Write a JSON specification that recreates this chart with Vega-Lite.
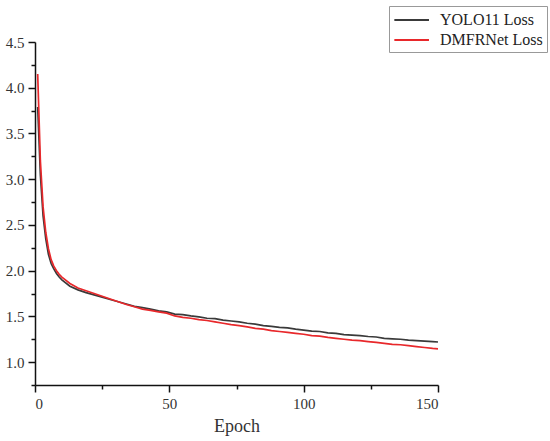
{
  "$schema": "https://vega.github.io/schema/vega-lite/v6.json",
  "autosize": {"type": "none"},
  "width": 403,
  "height": 343,
  "padding": {"left": 35, "top": 42, "right": 112, "bottom": 56},
  "background": "white",
  "data": {
    "values": [
      {"epoch": 1, "yolo": 3.79, "dmfr": 4.15},
      {"epoch": 2, "yolo": 3.05, "dmfr": 3.2},
      {"epoch": 3, "yolo": 2.6, "dmfr": 2.7},
      {"epoch": 4, "yolo": 2.35, "dmfr": 2.42},
      {"epoch": 5, "yolo": 2.18, "dmfr": 2.24},
      {"epoch": 6, "yolo": 2.08, "dmfr": 2.12},
      {"epoch": 7, "yolo": 2.02, "dmfr": 2.05},
      {"epoch": 8, "yolo": 1.97, "dmfr": 2.0},
      {"epoch": 9, "yolo": 1.93, "dmfr": 1.96},
      {"epoch": 10, "yolo": 1.9, "dmfr": 1.93},
      {"epoch": 13, "yolo": 1.83, "dmfr": 1.86},
      {"epoch": 16, "yolo": 1.79, "dmfr": 1.81},
      {"epoch": 19, "yolo": 1.76, "dmfr": 1.78},
      {"epoch": 22, "yolo": 1.735, "dmfr": 1.75},
      {"epoch": 25, "yolo": 1.71, "dmfr": 1.72},
      {"epoch": 28, "yolo": 1.685, "dmfr": 1.69},
      {"epoch": 31, "yolo": 1.66, "dmfr": 1.66},
      {"epoch": 34, "yolo": 1.635, "dmfr": 1.63},
      {"epoch": 37, "yolo": 1.61, "dmfr": 1.605},
      {"epoch": 40, "yolo": 1.595, "dmfr": 1.58},
      {"epoch": 43, "yolo": 1.58, "dmfr": 1.565},
      {"epoch": 46, "yolo": 1.56, "dmfr": 1.55},
      {"epoch": 49, "yolo": 1.55, "dmfr": 1.535},
      {"epoch": 52, "yolo": 1.525, "dmfr": 1.505},
      {"epoch": 55, "yolo": 1.52, "dmfr": 1.49},
      {"epoch": 58, "yolo": 1.505, "dmfr": 1.48},
      {"epoch": 61, "yolo": 1.495, "dmfr": 1.465},
      {"epoch": 64, "yolo": 1.48, "dmfr": 1.455},
      {"epoch": 67, "yolo": 1.475, "dmfr": 1.44},
      {"epoch": 70, "yolo": 1.46, "dmfr": 1.425},
      {"epoch": 73, "yolo": 1.45, "dmfr": 1.41},
      {"epoch": 76, "yolo": 1.44, "dmfr": 1.4},
      {"epoch": 79, "yolo": 1.425, "dmfr": 1.385},
      {"epoch": 82, "yolo": 1.415, "dmfr": 1.37},
      {"epoch": 85, "yolo": 1.4, "dmfr": 1.36},
      {"epoch": 88, "yolo": 1.39, "dmfr": 1.345},
      {"epoch": 91, "yolo": 1.38, "dmfr": 1.335},
      {"epoch": 94, "yolo": 1.375, "dmfr": 1.325},
      {"epoch": 97, "yolo": 1.36, "dmfr": 1.315},
      {"epoch": 100, "yolo": 1.35, "dmfr": 1.305},
      {"epoch": 103, "yolo": 1.34, "dmfr": 1.29},
      {"epoch": 106, "yolo": 1.335, "dmfr": 1.285},
      {"epoch": 109, "yolo": 1.32, "dmfr": 1.27},
      {"epoch": 112, "yolo": 1.315, "dmfr": 1.26},
      {"epoch": 115, "yolo": 1.3, "dmfr": 1.25},
      {"epoch": 118, "yolo": 1.295, "dmfr": 1.24},
      {"epoch": 121, "yolo": 1.29, "dmfr": 1.235},
      {"epoch": 124, "yolo": 1.28, "dmfr": 1.225},
      {"epoch": 127, "yolo": 1.275, "dmfr": 1.215},
      {"epoch": 130, "yolo": 1.26, "dmfr": 1.205},
      {"epoch": 133, "yolo": 1.255, "dmfr": 1.195},
      {"epoch": 136, "yolo": 1.25, "dmfr": 1.19},
      {"epoch": 139, "yolo": 1.24, "dmfr": 1.18},
      {"epoch": 142, "yolo": 1.235, "dmfr": 1.17},
      {"epoch": 145, "yolo": 1.23, "dmfr": 1.16},
      {"epoch": 148, "yolo": 1.225, "dmfr": 1.15},
      {"epoch": 150, "yolo": 1.22, "dmfr": 1.145}
    ]
  },
  "transform": [
    {"fold": ["yolo", "dmfr"], "as": ["model", "loss"]},
    {"calculate": "datum.model == 'yolo' ? 'YOLO11 Loss' : 'DMFRNet Loss'", "as": "series"}
  ],
  "mark": {"type": "line", "strokeWidth": 1.7},
  "encoding": {
    "x": {
      "field": "epoch",
      "type": "quantitative",
      "title": "Epoch",
      "scale": {"domain": [0, 150], "nice": false},
      "axis": {
        "values": [0, 25, 50, 75, 100, 125, 150],
        "labelExpr": "datum.value % 50 == 0 ? datum.label : ''",
        "tickSize": {"condition": {"test": "datum.value % 50 == 0", "value": 7}, "value": 4},
        "titlePadding": 6
      }
    },
    "y": {
      "field": "loss",
      "type": "quantitative",
      "title": null,
      "scale": {"domain": [0.75, 4.5], "nice": false, "zero": false},
      "axis": {
        "values": [0.75, 1, 1.25, 1.5, 1.75, 2, 2.25, 2.5, 2.75, 3, 3.25, 3.5, 3.75, 4, 4.25, 4.5],
        "labelExpr": "(datum.value * 2) % 1 == 0 ? format(datum.value, '.1f') : ''",
        "tickSize": {"condition": {"test": "(datum.value * 2) % 1 == 0", "value": 7}, "value": 4}
      }
    },
    "color": {
      "field": "series",
      "type": "nominal",
      "sort": ["YOLO11 Loss", "DMFRNet Loss"],
      "scale": {"domain": ["YOLO11 Loss", "DMFRNet Loss"], "range": ["#3a3a3a", "#e8282b"]},
      "legend": {
        "title": null,
        "orient": "none",
        "legendX": 354,
        "legendY": -36,
        "symbolType": "M-1,0H3",
        "symbolSize": 300,
        "symbolStrokeWidth": 2,
        "labelFont": "Liberation Serif",
        "labelFontSize": 16,
        "labelColor": "#222222",
        "labelOffset": 27,
        "rowPadding": 2,
        "padding": 4,
        "strokeColor": "#999999",
        "fillColor": "white"
      }
    }
  },
  "config": {
    "view": {"stroke": null},
    "axis": {
      "grid": false,
      "domainColor": "#111111",
      "domainWidth": 1.5,
      "tickColor": "#111111",
      "tickWidth": 1.5,
      "labelFont": "Liberation Serif",
      "labelFontSize": 15,
      "labelColor": "#333333",
      "titleFont": "Liberation Serif",
      "titleFontSize": 18,
      "titleFontWeight": "normal",
      "titleColor": "#333333",
      "labelPadding": 4
    }
  }
}
